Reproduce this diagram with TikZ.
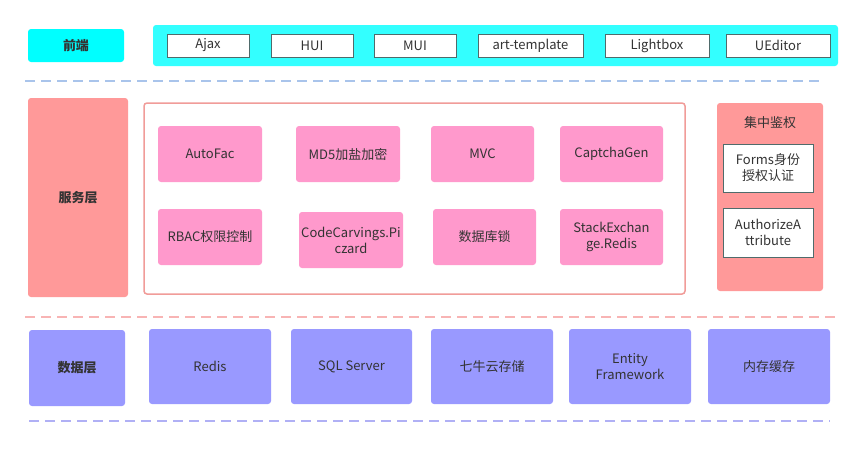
\documentclass[tikz,border=0pt]{standalone}
\usepackage{fontspec}
\setmainfont{Noto Sans CJK SC}
\definecolor{txt}{HTML}{333333}
\definecolor{cyanA}{HTML}{00FFFF}
\definecolor{cyanB}{HTML}{33FFFF}
\definecolor{salmon}{HTML}{FF9999}
\definecolor{pinkbox}{HTML}{FF99CC}
\definecolor{violet}{HTML}{9999FF}
\definecolor{frame}{HTML}{F19C99}
\definecolor{ink}{HTML}{4F6B6B}
\definecolor{dashblue}{HTML}{A9C4EB}
\definecolor{dashpink}{HTML}{F8B4B4}
\definecolor{dashviolet}{HTML}{B0B0F5}
\begin{document}
\begin{tikzpicture}[x=1pt,y=-1pt,
  every node/.style={font=\fontsize{13}{16}\selectfont, text=txt, inner sep=0pt, align=center},
  blk/.style={rounded corners=3pt, draw=none},
  lay/.style={blk, font=\fontsize{13}{16}\selectfont\bfseries},
  lib/.style={fill=white, draw=ink, line width=0.9pt, minimum height=23pt},
  svc/.style={blk, fill=pinkbox, minimum width=104pt, minimum height=56pt},
  auth/.style={fill=white, draw=ink, line width=0.9pt, minimum width=90pt},
  dat/.style={blk, fill=violet, minimum width=122pt, minimum height=75pt},
  sep/.style={line width=2pt, dash pattern=on 10pt off 6pt}]
\fill[white] (0,0) rectangle (863,456);
\useasboundingbox (0,0) rectangle (863,456);

% front layer
\node[lay, fill=cyanA, minimum width=96pt, minimum height=33pt] (front) at (76,45.5) {前端};
\node[blk, fill=cyanB, minimum width=685pt, minimum height=41pt] (frontbox) at (495.5,45.5) {};
\node[lib, minimum width=82pt] (ajax) at (208,45.5) {Ajax};
\node[lib, minimum width=82pt] (hui) at (312,45.5) {HUI};
\node[lib, minimum width=82pt] (mui) at (415,45.5) {MUI};
\node[lib, minimum width=105pt] (art) at (530.5,45.5) {art-template};
\node[lib, minimum width=104pt] (lightbox) at (657,45.5) {Lightbox};
\node[lib, minimum width=104pt] (ueditor) at (778,45.5) {UEditor};
\coordinate (b1) at (25,81);
\coordinate (b2) at (819,81);
\draw[sep, draw=dashblue] (b1) -- (b2);

% service layer
\node[lay, fill=salmon, minimum width=100pt, minimum height=199pt] (service) at (78,197.5) {服务层};
\node[rounded corners=3pt, draw=frame, line width=1.5pt, fill=white, minimum width=541pt, minimum height=191pt] (svcbox) at (414.5,198.5) {};
\node[svc] (autofac) at (210,154) {AutoFac};
\node[svc] (md5) at (348,154) {MD5加盐加密};
\node[svc, minimum width=103pt] (mvc) at (482.5,154) {MVC};
\node[svc, minimum width=103pt] (captcha) at (611.5,154) {CaptchaGen};
\node[svc] (rbac) at (210,237) {RBAC权限控制};
\node[svc] (code) at (351,240) {CodeCarvings.Pi\\czard};
\node[svc, minimum width=103pt] (dblock) at (484.5,237) {数据库锁};
\node[svc, minimum width=103pt] (stack) at (611.5,237) {StackExchan\\ge.Redis};
\node[blk, fill=salmon, minimum width=106pt, minimum height=188pt] (authbox) at (770,197) {};
\node (authtitle) at (770,123) {集中鉴权};
\node[auth, minimum height=48pt] (forms) at (768,168) {Forms身份\\授权认证};
\node[auth, minimum height=49pt] (authorize) at (768,232.5) {AuthorizeA\\ttribute};
\coordinate (p1) at (25,317);
\coordinate (p2) at (838,317);
\draw[sep, draw=dashpink] (p1) -- (p2);

% data layer
\node[lay, fill=violet, minimum width=96pt, minimum height=76pt] (data) at (77,368) {数据层};
\node[dat] (redis) at (210,366.5) {Redis};
\node[dat, minimum width=121pt] (sql) at (351.5,366.5) {SQL Server};
\node[dat] (qiniu) at (492,366.5) {七牛云存储};
\node[dat] (ef) at (630,366.5) {Entity\\Framework};
\node[dat] (mem) at (769,366.5) {内存缓存};
\coordinate (v1) at (29,421);
\coordinate (v2) at (830,421);
\draw[sep, draw=dashviolet] (v1) -- (v2);
\end{tikzpicture}
\end{document}
